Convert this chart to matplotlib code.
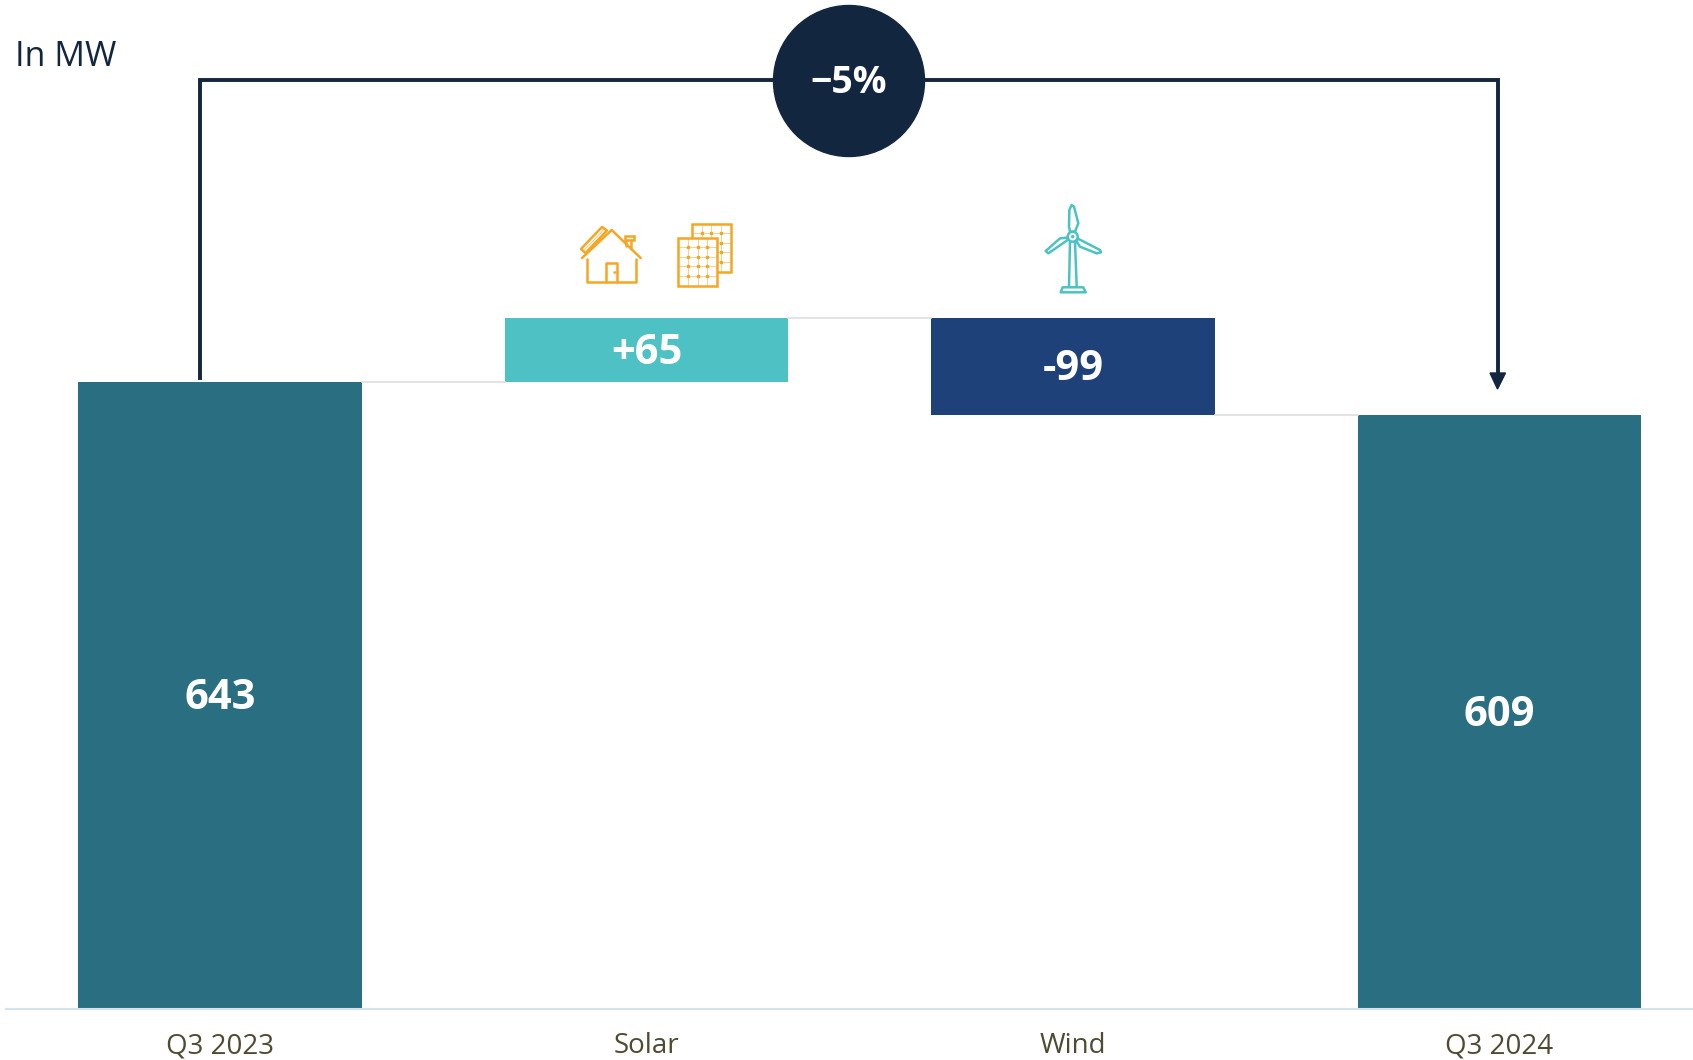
from matplotlib import pyplot as plt
from matplotlib.patches import Circle, Polygon, Rectangle

plt.rcParams['font.family'] = ['Open Sans', 'DejaVu Sans']

categories = ['Q3 2023', 'Solar', 'Wind', 'Q3 2024']
tops = [643, 708, 708, 609]
bottoms = [0, 643, 609, 0]
labels = ['643', '+65', '-99', '609']
bar_colors = ['#2A6E82', '#4DC1C4', '#1F4179', '#2A6E82']
connectors = [643, 708, 609]
change_label = '\u22125%'
unit_label = 'In MW'

W, H = 1693, 1060
NAVY = '#12263F'
ORANGE = '#F5A623'
TEAL = '#4DC2C4'

fig = plt.figure(figsize=(W / 100, H / 100), dpi=100)

# main axes, placed so that baseline and bars land where they are in the picture
ax = fig.add_axes([6 / W, (H - 1008.5) / H, (W - 6) / W, 1008.5 / H])
ax.set_xlim((6 - 220) / 426.5, (W - 220) / 426.5)
ax.set_ylim(0, 1008.5 / 0.975)

width = 0.664
heights = [t - b for t, b in zip(tops, bottoms)]
ax.bar(range(4), heights, bottom=bottoms, width=width, color=bar_colors)

for i in range(3):
    ax.plot([i + width / 2, i + 1 - width / 2], [connectors[i], connectors[i]],
            color='#DEDEDE', lw=1.2)

for i in range(4):
    ax.annotate(labels[i], (i, bottoms[i] + heights[i] / 2), xytext=(0, -2.5),
                textcoords='offset points', color='white', fontsize=30,
                fontweight='bold', ha='center', va='center')

ax.set_xticks(range(4))
ax.set_xticklabels(categories, fontsize=20, color='#4F4B33')
ax.set_yticks([])
ax.tick_params(axis='x', length=0, pad=17)
for s in ['top', 'left', 'right']:
    ax.spines[s].set_visible(False)
ax.spines['bottom'].set_color('#D5E3F0')
ax.spines['bottom'].set_linewidth(1.5)

# overlay in pixel coordinates for the bracket and the icons
ov = fig.add_axes([0, 0, 1, 1])
ov.set_xlim(0, W)
ov.set_ylim(H, 0)
ov.axis('off')
ov.patch.set_alpha(0)

ov.text(15, 57, unit_label, color=NAVY, fontsize=24.5, ha='left', va='center')

ov.plot([200, 200, 1497.5, 1497.5], [378, 80, 80, 376], color=NAVY, lw=2.8,
        solid_joinstyle='miter')
ov.add_patch(Polygon([(1490, 373), (1505.5, 373), (1497.5, 389)], color=NAVY))
ov.add_patch(Circle((849, 81), 75.5, color=NAVY, zorder=3))
ov.text(849, 83, change_label, color='white', fontsize=27, fontweight='bold',
        ha='center', va='center', zorder=4)

# house icon
lw_icon = 1.8
def line(xs, ys, color=ORANGE, lw=lw_icon, **kw):
    ov.plot(xs, ys, color=color, lw=lw, solid_capstyle='round', **kw)

line([582, 611.7, 640.7], [258, 230, 258])
line([586.7, 586.7, 636, 636], [259.3, 281.7, 281.7, 259.3])
line([606.3, 606.3, 616.7, 616.7], [281.7, 262.7, 262.7, 281.7])
line([614, 614.6], [272.3, 272.3])
line([626, 626], [240, 246])
line([630.7, 630.7], [240, 249.3])
ov.add_patch(Rectangle((624.7, 236), 9, 4, fill=False, ec=ORANGE, lw=lw_icon))
ov.add_patch(Polygon([(581, 249), (602, 227), (607, 230.5), (585.5, 253)],
                     fill=False, ec=ORANGE, lw=lw_icon, joinstyle='round'))
line([584, 604.5], [250.3, 229], lw=0.7, alpha=0.6)

# solar panels icon
def panel(x0, y0, vs, hs, z):
    ov.add_patch(Rectangle((x0, y0), 39.3, 48, fc='white', ec=ORANGE, lw=lw_icon, zorder=z))
    for v in vs:
        ov.plot([v, v], [y0, y0 + 48], color=ORANGE, lw=0.6, alpha=0.6, zorder=z)
    for h in hs:
        ov.plot([x0, x0 + 39.3], [h, h], color=ORANGE, lw=0.6, alpha=0.6, zorder=z)
    ov.plot([v for v in vs for h in hs], [h for v in vs for h in hs], ls='none',
            marker='s', ms=1.6, color=ORANGE, zorder=z)

panel(692, 223.7, [701.7, 711.3, 721], [233.3, 242.7, 252.3, 262], 2)
panel(678, 238, [687.7, 697.7, 707.3], [247.3, 257, 266.3, 276], 3)

# wind turbine icon
def turbine_pts(pts):
    return [(1020 + x / 3, 190 + y / 3) for x, y in pts]

blades = [
    [(147, 110), (148, 60), (155, 45), (162, 50), (175, 100), (165, 125), (150, 125)],
    [(143, 150), (85, 190), (77, 183), (120, 145), (143, 143)],
    [(172, 145), (240, 180), (243, 187), (230, 190), (180, 170), (170, 155)],
]
for b in blades:
    ov.add_patch(Polygon(turbine_pts(b), fill=False, ec=TEAL, lw=lw_icon, joinstyle='round'))
ov.add_patch(Circle((1072.7, 236.7), 5, fc='white', ec=TEAL, lw=lw_icon, zorder=3))
ov.add_patch(Circle((1072.7, 236.7), 1, color=TEAL, zorder=4))
line([1070, 1069], [241.7, 286.7], color=TEAL)
line([1075, 1076.7], [241.7, 286.7], color=TEAL)
ov.add_patch(Polygon([(1060.7, 292.3), (1062.7, 287.3), (1083.3, 287.3), (1085.7, 292.3)],
                     fill=False, ec=TEAL, lw=lw_icon, joinstyle='round'))

plt.savefig('out.png', dpi=100)
